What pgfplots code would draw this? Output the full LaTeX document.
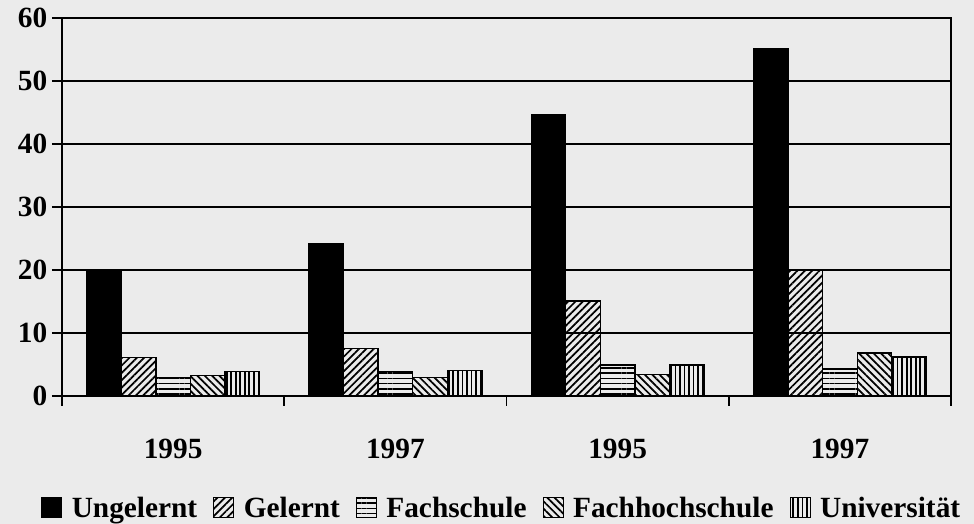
\documentclass[border=0pt]{standalone}
\usepackage{pgfplots}
\pgfplotsset{compat=1.18}
\usepackage{fontspec}
\setmainfont{Liberation Serif}
\usetikzlibrary{patterns.meta,backgrounds}
\definecolor{bgcol}{RGB}{235,235,235}

\begin{document}
\begin{tikzpicture}
\begin{axis}[
  at={(0,0)}, anchor=south west,
  scale only axis, width=666.75pt, height=283.5pt,
  xmin=0, xmax=4, ymin=0, ymax=60,
  ytick={0,10,...,60},
  xtick={0.5,1.5,2.5,3.5},
  xticklabels={1995,1997,1995,1997},
  minor xtick={0,1,2,3,4},
  tick align=outside,
  tick pos=left,
  major tick length=7.5pt,
  minor tick length=7.5pt,
  major x tick style={draw=none},
  minor x tick style={black, line width=1.3pt},
  ytick style={black, line width=1.3pt},
  axis line style={line width=1.4pt},
  ymajorgrids,
  major grid style={black, line width=1.1pt},
  /pgf/number format/assume math mode=true,
  tick label style={font=\bfseries\fontsize{22}{22}\selectfont},
  xticklabel style={yshift=-21pt},
  ybar=0pt,
  bar width=0.1556,
  legend style={at={(0.495,-0.296)}, anchor=center, draw=none, fill=none,
    legend columns=5, font=\bfseries\fontsize{22}{22}\selectfont,
    /tikz/every even column/.style={column sep=10pt}},
  legend image code/.code={\draw[#1, line width=0.8pt] (0pt,-7.5pt) rectangle (15pt,7.5pt); \path (20pt,0pt);},
]
\addplot[fill=black, draw=black, line width=1pt] coordinates {(0.5,20.0) (1.5,24.2) (2.5,44.7) (3.5,55.1)};
\addplot[draw=black, line width=1pt, pattern={Lines[angle=45,distance=3.9pt,line width=1.3pt]}] coordinates {(0.5,6.1) (1.5,7.5) (2.5,15.1) (3.5,20.0)};
\addplot[draw=black, line width=1pt, pattern={Lines[angle=0,distance=3.9pt,line width=1.3pt]}] coordinates {(0.5,2.9) (1.5,3.9) (2.5,4.9) (3.5,4.3)};
\addplot[draw=black, line width=1pt, pattern={Lines[angle=-45,distance=3.9pt,line width=1.3pt]}] coordinates {(0.5,3.3) (1.5,2.9) (2.5,3.4) (3.5,6.8)};
\addplot[draw=black, line width=1pt, pattern={Lines[angle=90,distance=3.4pt,line width=1.3pt]}] coordinates {(0.5,3.9) (1.5,4.1) (2.5,4.9) (3.5,6.2)};
\legend{Ungelernt,Gelernt,Fachschule,Fachhochschule,Universität}
\end{axis}
\begin{scope}[on background layer]
\fill[bgcol] (-46.5pt,-96pt) rectangle (684pt,297pt);
\end{scope}
\pgfresetboundingbox
\useasboundingbox (-46.5pt,-96pt) rectangle (684pt,297pt);
\end{tikzpicture}
\end{document}
